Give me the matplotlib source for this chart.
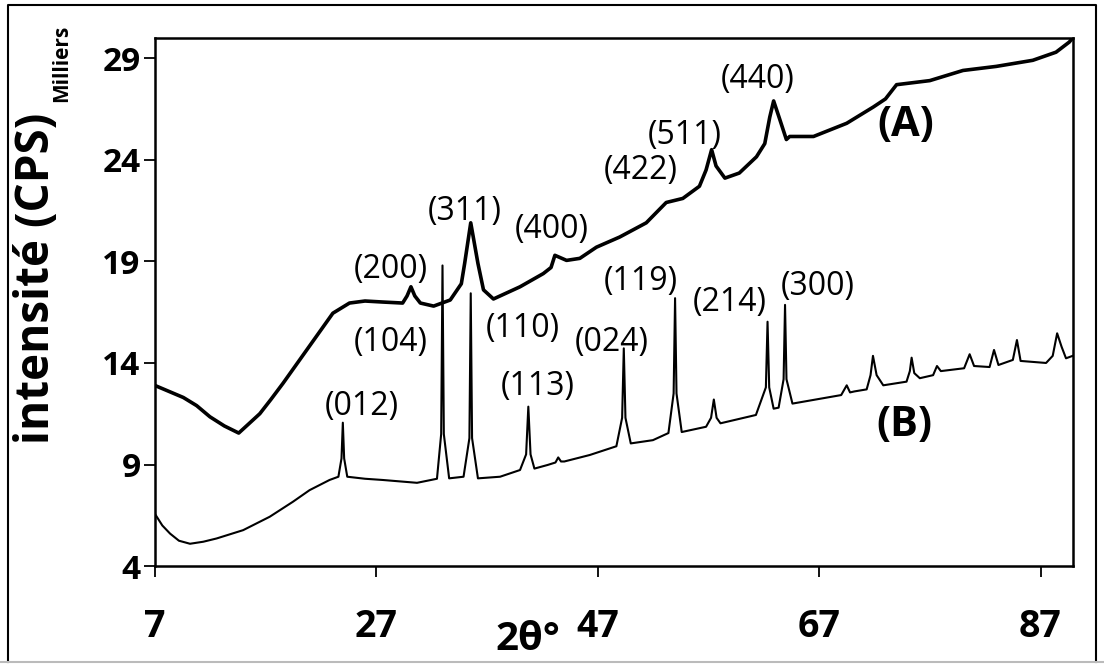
#!/usr/bin/env python

import matplotlib
matplotlib.use('Agg')
import matplotlib.pyplot as plt
from matplotlib.lines import Line2D

# XRD pattern (A), values in thousands of CPS
a_theta = [7.0, 8.3, 9.6, 10.8, 12.0, 13.3, 14.6, 15.5, 16.5, 17.5, 18.6, 20.1, 21.6, 23.1, 24.6,
           26.0, 27.6, 29.4, 29.8, 30.15, 30.5, 31.0, 32.2, 33.7, 34.7, 35.0, 35.55, 36.2, 36.7,
           37.6, 40.0, 42.1, 42.8, 43.15, 44.2, 45.4, 46.9, 49.0, 51.4, 53.2, 54.7, 56.2, 56.8,
           57.3, 57.7, 58.5, 59.8, 61.35, 62.1, 62.55, 62.9, 63.45, 64.05, 64.35, 66.5, 69.5,
           71.9, 73.0, 74.0, 77.0, 80.0, 83.0, 86.3, 88.4, 89.6, 89.9]
a_cps = [12.9, 12.6, 12.3, 11.9, 11.35, 10.9, 10.55, 11.0, 11.5, 12.2, 13.0, 14.15, 15.3, 16.45, 16.95,
         17.05, 17.0, 16.95, 17.3, 17.75, 17.3, 16.95, 16.8, 17.1, 17.9, 18.9, 20.9, 18.9, 17.6,
         17.15, 17.75, 18.4, 18.7, 19.3, 19.05, 19.15, 19.7, 20.2, 20.9, 21.9, 22.1, 22.7, 23.5,
         24.5, 23.7, 23.1, 23.35, 24.15, 24.8, 26.1, 26.9, 26.0, 25.0, 25.15, 25.15, 25.8,
         26.6, 27.0, 27.7, 27.9, 28.4, 28.6, 28.9, 29.3, 29.8, 30.0]

# XRD pattern (B)
b_theta = [7.0, 7.7, 8.4, 9.2, 10.2, 11.4, 12.6, 15.0, 17.4, 19.5, 21.0, 22.8, 23.6, 23.88, 24.0,
           24.12, 24.4, 26.0, 27.6, 30.7, 32.5, 32.88, 33.0, 33.12, 33.6, 34.9, 35.43, 35.55, 35.67,
           36.2, 38.2, 40.0, 40.55, 40.75, 40.95, 41.3, 42.5, 43.2, 43.45, 43.7, 44.0, 46.3, 48.7,
           49.22, 49.37, 49.52, 50.0, 52.0, 53.4, 53.87, 54.0, 54.13, 54.6, 56.8, 57.25, 57.5,
           57.75, 58.1, 61.3, 62.2, 62.35, 62.5, 62.9, 63.35, 63.8, 63.93, 64.06, 64.6, 69.0,
           69.5, 69.8, 70.2, 71.3, 71.65, 71.87, 72.2, 72.8, 74.9, 75.2, 75.36, 75.6, 76.1, 77.3,
           77.65, 78.0, 80.1, 80.6, 81.0, 82.4, 82.8, 83.2, 84.5, 84.87, 85.2, 87.5, 88.1, 88.5,
           88.9, 89.3, 89.9]
b_cps = [6.6, 6.0, 5.6, 5.25, 5.1, 5.2, 5.36, 5.77, 6.43, 7.17, 7.74, 8.24, 8.4, 9.3, 11.06,
         9.3, 8.4, 8.3, 8.24, 8.1, 8.3, 10.5, 18.8, 10.5, 8.32, 8.4, 10.3, 17.43, 10.3,
         8.32, 8.4, 8.73, 9.5, 11.85, 9.5, 8.8, 8.98, 9.1, 9.35, 9.15, 9.15, 9.47, 9.9,
         11.3, 14.72, 11.3, 10.04, 10.2, 10.55, 12.5, 17.19, 12.5, 10.6, 10.86, 11.3, 12.2,
         11.3, 11.03, 11.44, 12.8, 16.03, 12.8, 11.75, 11.8, 13.2, 16.86, 13.2, 12.0, 12.42,
         12.9, 12.55, 12.6, 12.7, 13.4, 14.35, 13.4, 12.9, 13.08, 13.6, 14.26, 13.5, 13.25, 13.4,
         13.85, 13.6, 13.74, 14.43, 13.85, 13.8, 14.64, 13.9, 14.15, 15.13, 14.1, 14.0, 14.35, 15.46,
         14.8, 14.23, 14.35]

# Miller index labels and where they sit (2theta, intensity)
hkl_labels = ['(200)', '(104)', '(012)', '(311)', '(110)', '(113)', '(400)', '(024)',
              '(422)', '(119)', '(511)', '(214)', '(440)', '(300)']
hkl_x = [28.35, 28.35, 25.73, 35.02, 40.26, 41.61, 42.87, 48.29, 50.91, 50.91, 54.88, 58.94, 61.47, 66.88]
hkl_y = [18.58, 15.03, 11.88, 21.44, 15.72, 12.82, 20.55, 15.03, 23.46, 17.99, 25.18, 17.0, 27.94, 17.74]

x_ticks = [7, 27, 47, 67, 87]
y_ticks = [4, 9, 14, 19, 24, 29]

font = 'Open Sans'

fig = plt.figure(figsize=(11.04, 6.66), dpi=100)
ax = fig.add_axes([0.140, 0.150, 0.8316, 0.793])

ax.plot(a_theta, a_cps, color='black', lw=2.6)
ax.plot(b_theta, b_cps, color='black', lw=1.5)

for lab, x, y in zip(hkl_labels, hkl_x, hkl_y):
    ax.text(x, y, lab, ha='center', va='center', fontsize=23, family=font)

ax.text(74.8, 25.67, '(A)', ha='center', va='center', fontsize=30, fontweight='bold', family=font)
ax.text(74.7, 10.9, '(B)', ha='center', va='center', fontsize=30, fontweight='bold', family=font)

ax.set_xlim(7, 89.9)
ax.set_ylim(4, 30)
ax.set_xticks(x_ticks)
ax.set_yticks(y_ticks)
for s in ax.spines.values():
    s.set_linewidth(1.8)
ax.tick_params(axis='both', direction='out', length=8, width=1.3)
ax.tick_params(axis='x', pad=22)
ax.tick_params(axis='y', pad=2)
for t in ax.get_xticklabels():
    t.set_fontsize(27)
    t.set_fontweight('bold')
    t.set_family(font)
for t in ax.get_yticklabels():
    t.set_fontsize(24)
    t.set_fontweight('bold')
    t.set_family(font)

# axis titles placed by hand, as in the original
fig.text(0.033, 0.582, 'intensité (CPS)', rotation=90, ha='center', va='center',
         fontsize=33, fontweight='bold', family=font)
fig.text(0.056, 0.905, 'Milliers', rotation=90, ha='center', va='center',
         fontsize=15, fontweight='bold', family=font)
fig.text(0.478, 0.040, '2θ°', ha='center', va='center',
         fontsize=29, fontweight='bold', family=font)

# chart area border
fig.add_artist(Line2D([0.0075, 0.0075, 0.9925, 0.9925], [0.006, 0.9925, 0.9925, 0.006],
                      transform=fig.transFigure, color='black', lw=1.5))
fig.add_artist(Line2D([0.0, 1.0], [0.006, 0.006], transform=fig.transFigure,
                      color='#bbbbbb', lw=1.5))

fig.savefig('out.png', dpi=100)
